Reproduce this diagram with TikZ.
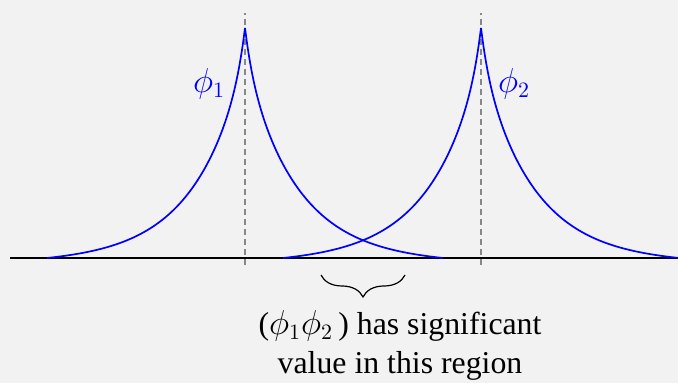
\documentclass[tikz,border=0pt]{standalone}
\usepackage{fontspec}
\setmainfont{LiberationSerif}[Extension=.ttf,UprightFont=*-Regular,ItalicFont=*-Italic,BoldFont=*-Bold]
\usetikzlibrary{decorations.pathreplacing}
\definecolor{bggray}{HTML}{F2F2F2}
\definecolor{guidegray}{HTML}{888888}

\begin{document}
\begin{tikzpicture}[x=0.5pt,y=0.5pt,font=\rmfamily\fontsize{15.9}{19.5}\selectfont,
   declare function={bump(\t)=0.85*exp(-3.8*\t)+0.15*exp(-25*\t)-0.019*\t;},
   wave/.style={blue,line width=0.85pt,smooth,samples=90,domain=0:1},
   guide/.style={guidegray,line width=0.75pt,dash pattern=on 3pt off 2pt},
   lbl/.style={blue,inner sep=0pt}]
  \fill[bggray] (0,0) rectangle (678,383);
  \useasboundingbox (0,0) rectangle (678,383);
  % axis and peak positions
  \coordinate (a0) at (10,125);
  \coordinate (a1) at (678,125);
  \coordinate (p1) at (245,125);
  \coordinate (p2) at (481,125);
  \draw[line width=1pt] (a0) -- (a1);
  \foreach \c in {p1,p2}
    \draw[guide] ([yshift=-3.5pt]\c) -- ([yshift=122.5pt]\c);
  % the two cusp functions
  \foreach \cx in {245,481}
    \foreach \s in {-1,1}
      \draw[wave] plot ({\cx+\s*198*\x},{125+230*bump(\x)});
  \node[lbl] (phi1) at (209,299) {$\phi_1$};
  \node[lbl] (phi2) at (514,299) {$\phi_2$};
  % overlap region
  \coordinate (b0) at (321,108);
  \coordinate (b1) at (405,108);
  \draw[line width=0.6pt,decorate,decoration={brace,mirror,amplitude=11pt}]
       (b0) -- (b1);
  \node[align=center,inner sep=0pt,anchor=north] (note) at (400,73)
       {($\phi_1\phi_2$\,) has significant\\value in this region};
\end{tikzpicture}
\end{document}
